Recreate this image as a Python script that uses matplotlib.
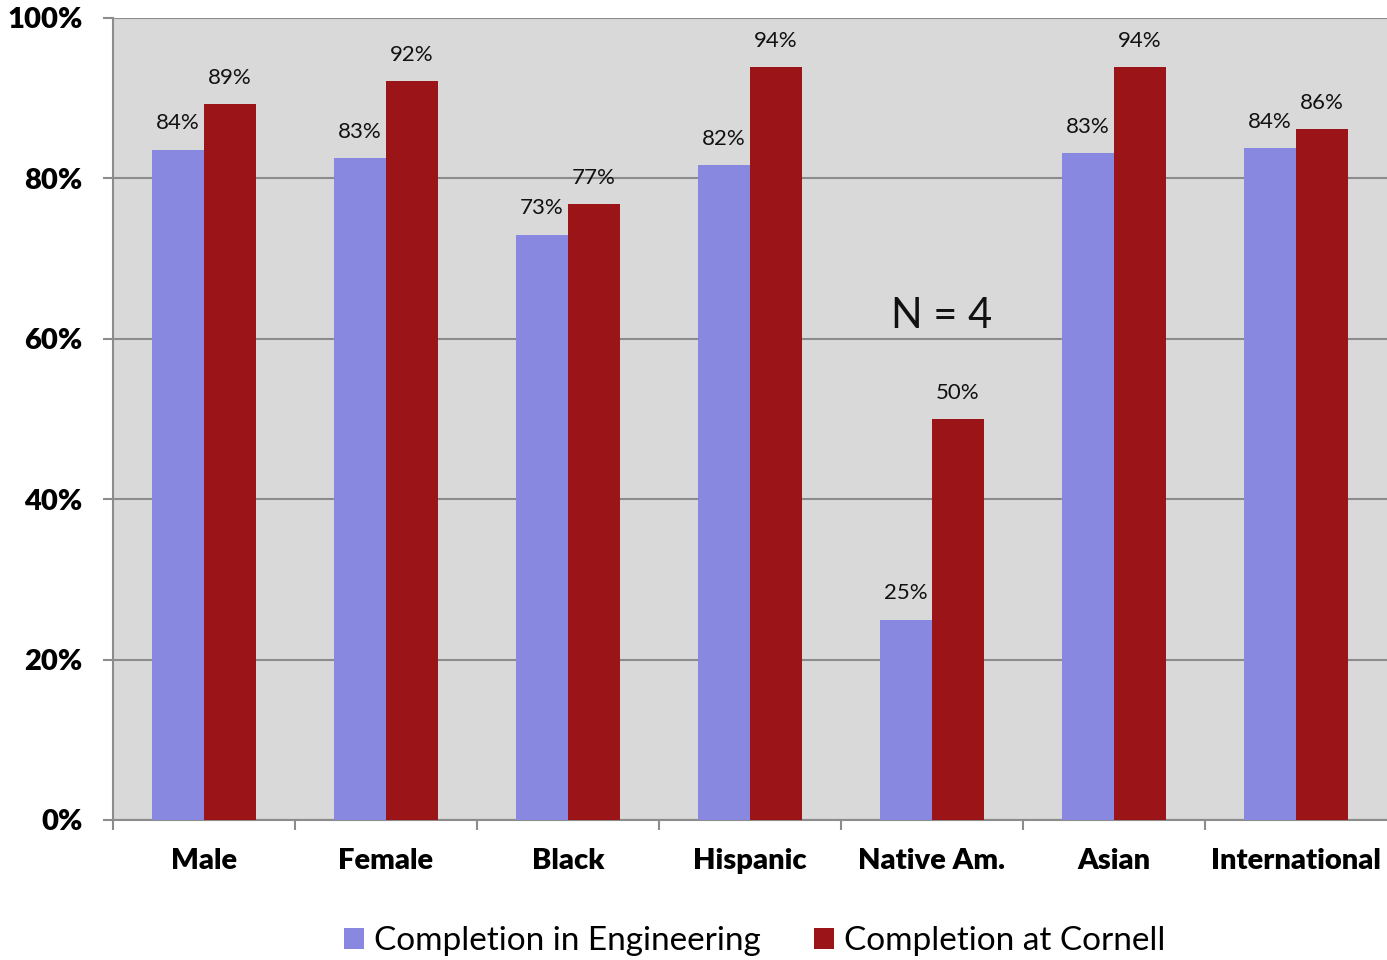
import matplotlib
matplotlib.use("Agg")
import matplotlib.pyplot as plt
import numpy as np

categories = ["Male", "Female", "Black", "Hispanic", "Native Am.", "Asian", "International"]
engineering = [83.6, 82.5, 73.0, 81.7, 25.0, 83.2, 83.8]
cornell = [89.3, 92.2, 76.8, 93.9, 50.0, 93.9, 86.1]
eng_labels = ["84%", "83%", "73%", "82%", "25%", "83%", "84%"]
cor_labels = ["89%", "92%", "77%", "94%", "50%", "94%", "86%"]
series_names = ["Completion in Engineering", "Completion at Cornell"]
yticks = [0, 20, 40, 60, 80, 100]

plt.rcParams['font.family'] = ['Lato', 'DejaVu Sans']

fig = plt.figure(figsize=(13.87, 9.6), dpi=100)
ax = fig.add_axes([113/1387, 140/960, 1 - 113/1387, (820-18)/960])
ax.set_facecolor('#D9D9D9')

x = np.arange(len(categories))
w = 0.286
c_eng = '#8888E0'
c_cor = '#9B1418'
b1 = ax.bar(x - w/2, engineering, w, color=c_eng, label=series_names[0], zorder=3)
b2 = ax.bar(x + w/2, cornell, w, color=c_cor, label=series_names[1], zorder=3)

for xi, v, t in zip(x - w/2, engineering, eng_labels):
    ax.text(xi, v + 2.0, t, ha='center', va='bottom', fontsize=16, color='#111111', zorder=4)
for xi, v, t in zip(x + w/2, cornell, cor_labels):
    ax.text(xi, v + 2.0, t, ha='center', va='bottom', fontsize=16, color='#111111', zorder=4)

ax.text(4.05, 62.9, "N = 4", ha='center', va='center', fontsize=30, color='#111111', zorder=4)

ax.set_xlim(-0.5, len(categories) - 0.5)
ax.set_ylim(0, 100)
ax.set_yticks(yticks)
ax.set_yticklabels([f"{v}%" for v in yticks], fontsize=21, fontweight='heavy')
ax.yaxis.grid(True, color='#8C8C8C', linewidth=1.5, zorder=1)
ax.set_axisbelow(True)

ax.set_xticks(x)
ax.set_xticklabels(categories, fontsize=21, fontweight='heavy')
ax.tick_params(axis='x', length=0, pad=20)
ax.set_xticks(np.arange(len(categories)) - 0.5, minor=True)
ax.tick_params(axis='x', which='minor', length=7, color='#8C8C8C', width=1.5, direction='out')
ax.tick_params(axis='y', length=7, color='#8C8C8C', width=1.5, pad=15)

for s in ['top', 'right']:
    ax.spines[s].set_visible(False)
for s in ['left', 'bottom']:
    ax.spines[s].set_color('#8C8C8C')
    ax.spines[s].set_linewidth(1.5)

leg = fig.legend(handles=[b1, b2], loc='center', bbox_to_anchor=(755/1387, 1 - 941/960),
                 ncol=2, frameon=False, fontsize=24, handlelength=0.6, handleheight=0.6,
                 handletextpad=0.3, columnspacing=1.6)

fig.savefig("out.png", dpi=100)
